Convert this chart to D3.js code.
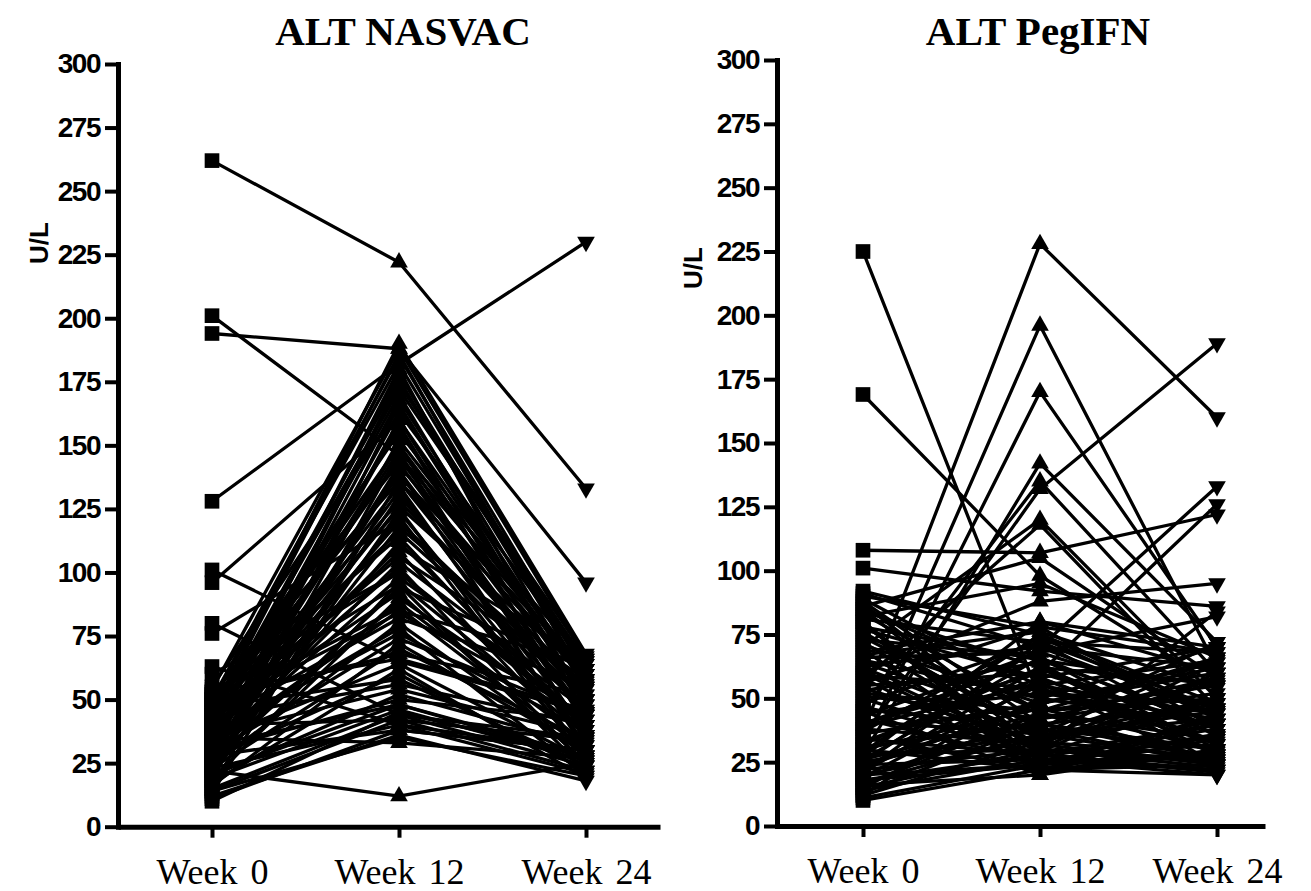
<!DOCTYPE html>
<html>
<head>
<meta charset="utf-8">
<script src="https://cdn.jsdelivr.net/npm/d3@7"></script>
<style>
  html, body { margin: 0; padding: 0; background: #fff; }
  svg { display: block; }
</style>
</head>
<body>
<div id="chart"></div>
<script>
(function () {
    'use strict';

    // categories and ticks
    var weeks = ["Week 0", "Week 12", "Week 24"];
    var yTicks = [0, 25, 50, 75, 100, 125, 150, 175, 200, 225, 250, 275, 300];

    // one row per patient: [week 0, week 12, week 24] in U/L
    var nasvacPatients = [
        [262, 222, 133], [201, 146, 60], [194, 188, 96], [128, 182, 230],
        [101, 65, 45], [96, 160, 55], [80, 44, 35], [76, 120, 50],
        [63, 40, 30], [60, 100, 40], [22, 12, 25], [14, 35, 20], [10, 45, 28],
        [45, 190, 68], [50, 185, 62], [38, 178, 58], [42, 172, 65], [30, 168, 55],
        [55, 165, 50], [25, 160, 45], [48, 155, 60], [35, 150, 52], [40, 145, 48],
        [28, 140, 42], [52, 136, 58], [33, 132, 38], [44, 128, 55], [20, 124, 35],
        [36, 120, 45], [47, 116, 50], [26, 112, 40], [39, 108, 30], [31, 104, 48],
        [53, 100, 42], [18, 96, 36], [42, 92, 25], [29, 88, 33], [46, 84, 44],
        [24, 80, 28], [37, 76, 38], [16, 72, 30], [50, 68, 52], [34, 64, 26],
        [27, 60, 22], [43, 56, 40], [20, 52, 32], [32, 48, 27], [15, 44, 24],
        [40, 42, 34], [23, 40, 21], [28, 38, 30], [12, 36, 18], [35, 33, 27],
        [19, 46, 26], [45, 150, 35], [30, 175, 62], [22, 130, 50], [38, 110, 66],
        [50, 95, 22], [26, 142, 57], [17, 62, 19], [41, 125, 28], [33, 85, 64],
        [54, 188, 66], [49, 182, 60], [43, 176, 54], [37, 170, 48], [31, 163, 64],
        [27, 158, 40], [21, 152, 58], [15, 147, 36], [52, 143, 44], [46, 138, 62],
        [39, 134, 32], [34, 126, 60], [29, 122, 26], [24, 118, 54], [51, 114, 36],
        [44, 106, 58], [38, 102, 24], [32, 98, 46], [25, 94, 62], [19, 90, 40],
        [48, 86, 30], [41, 82, 56], [35, 78, 20], [29, 74, 44], [23, 70, 34],
        [53, 66, 46], [47, 58, 24], [36, 54, 36], [30, 50, 42], [21, 48, 28],
        [14, 42, 22], [11, 38, 30], [44, 186, 56], [36, 180, 44], [28, 174, 67],
        [18, 166, 50], [40, 157, 40], [32, 148, 65], [24, 140, 30], [13, 136, 45]
    ];

    var pegifnPatients = [
        [225, 50, 40], [169, 98, 55], [49, 228, 160], [38, 196, 62], [32, 170, 70],
        [35, 132, 189], [108, 107, 122], [101, 92, 86], [60, 88, 95], [28, 142, 72],
        [45, 135, 60], [70, 120, 50], [25, 70, 133], [40, 60, 126], [85, 30, 84],
        [92, 75, 45], [88, 40, 30], [85, 55, 65], [80, 25, 35], [78, 65, 40],
        [75, 45, 55], [72, 30, 25], [68, 80, 60], [65, 50, 70], [62, 35, 45],
        [58, 22, 28], [55, 60, 38], [52, 45, 50], [50, 28, 22], [48, 72, 68],
        [46, 38, 30], [44, 52, 42], [42, 25, 35], [40, 65, 55], [38, 32, 24],
        [36, 48, 62], [34, 28, 40], [33, 58, 33], [31, 40, 27], [30, 22, 20],
        [29, 75, 48], [27, 35, 58], [26, 44, 26], [24, 26, 32], [23, 55, 44],
        [22, 30, 23], [21, 62, 36], [20, 24, 29], [19, 42, 52], [18, 28, 21],
        [17, 36, 25], [16, 20, 30], [15, 50, 40], [14, 26, 22], [12, 33, 27],
        [10, 22, 24], [90, 78, 38], [82, 95, 66], [86, 105, 58], [57, 118, 46],
        [66, 68, 82], [74, 38, 72],
        [91, 70, 62], [89, 52, 48], [87, 33, 57], [84, 62, 28], [83, 45, 66],
        [81, 72, 35], [79, 28, 50], [77, 58, 70], [76, 35, 42], [73, 66, 30],
        [71, 48, 64], [69, 24, 36], [67, 76, 54], [64, 40, 26], [63, 70, 44],
        [61, 29, 60], [59, 54, 32], [56, 78, 68], [54, 33, 48], [53, 64, 24],
        [51, 42, 58], [47, 27, 38], [43, 68, 46], [41, 36, 66], [39, 56, 28],
        [37, 74, 42], [35, 22, 34], [32, 62, 56], [30, 46, 30], [28, 30, 64],
        [26, 66, 38], [25, 38, 24], [23, 48, 60], [21, 72, 46], [20, 34, 50],
        [19, 56, 22], [18, 24, 42], [16, 44, 34], [15, 30, 26], [13, 40, 46],
        [12, 58, 32], [11, 24, 28], [27, 80, 70], [45, 20, 44], [60, 26, 20],
        [80, 22, 40]
    ];

    var w = 1311,
        h = 891;

    var panels = [
        { title: "ALT NASVAC", data: nasvacPatients,
          axisLeft: 118, axisRight: 660, first: 212, last: 586,
          yTop: 64, yBottom: 826.7, titleX: 403, ylabX: 48, ylabY: 243 },
        { title: "ALT PegIFN", data: pegifnPatients,
          axisLeft: 777, axisRight: 1265, first: 863, last: 1217,
          yTop: 60, yBottom: 826, titleX: 1038, ylabX: 702, ylabY: 268 }
    ];

    var svg = d3.select("#chart")
        .append("svg")
        .attr("width", w)
        .attr("height", h);

    var square = d3.symbol().type(d3.symbolSquare).size(215)(),
        triangle = d3.symbol().type(d3.symbolTriangle).size(135)();

    panels.forEach(function (p) {
        var step = (p.last - p.first) / 2;
        var x = d3.scaleLinear()
            .domain([(p.axisLeft - p.first) / step, (p.axisRight - p.first) / step])
            .range([p.axisLeft, p.axisRight]);
        var y = d3.scaleLinear()
            .domain([0, 300])
            .range([p.yBottom, p.yTop]);

        var g = svg.append("g");

        // patient lines
        var line = d3.line()
            .x(function (d, i) { return x(i); })
            .y(function (d) { return y(d); });

        g.append("g")
            .selectAll("path")
            .data(p.data)
            .enter().append("path")
            .attr("d", line)
            .attr("fill", "none")
            .attr("stroke", "#000")
            .attr("stroke-width", 3.3)
            .attr("stroke-linejoin", "round");

        // markers: square for week 0, up triangle week 12, down triangle week 24
        var marks = g.append("g");
        p.data.forEach(function (row) {
            row.forEach(function (v, i) {
                var shape = i === 0 ? square : triangle;
                var rot = i === 2 ? " rotate(180)" : "";
                marks.append("path")
                    .attr("d", shape)
                    .attr("transform", "translate(" + x(i) + "," + y(v) + ")" + rot)
                    .attr("fill", "#000");
            });
        });

        // y axis
        var yAxis = g.append("g")
            .attr("transform", "translate(" + p.axisLeft + ",0)")
            .call(d3.axisLeft(y).tickValues(yTicks).tickSize(13).tickSizeOuter(0).tickPadding(5));
        yAxis.select(".domain").attr("stroke-width", 5).attr("stroke-linecap", "square");
        yAxis.selectAll(".tick line").attr("stroke-width", 4);
        yAxis.selectAll(".tick text")
            .attr("font-family", "'Liberation Sans', Arial, sans-serif")
            .attr("font-weight", "bold")
            .attr("font-size", 28)
            .attr("letter-spacing", -1.5)
            .attr("fill", "#000");

        // x axis
        var xAxis = g.append("g")
            .attr("transform", "translate(0," + p.yBottom + ")")
            .call(d3.axisBottom(x).tickValues([0, 1, 2])
                .tickFormat(function (i) { return weeks[i]; })
                .tickSize(11).tickSizeOuter(0));
        xAxis.select(".domain").attr("stroke-width", 5);
        xAxis.selectAll(".tick line").attr("stroke-width", 4);
        xAxis.selectAll(".tick text")
            .attr("dy", null)
            .attr("y", 57)
            .attr("font-family", "'Liberation Serif', 'Times New Roman', serif")
            .attr("font-size", 36)
            .attr("word-spacing", 4)
            .attr("fill", "#000");

        // title
        svg.append("text")
            .attr("x", p.titleX)
            .attr("y", 45)
            .attr("text-anchor", "middle")
            .attr("font-family", "'Liberation Serif', 'Times New Roman', serif")
            .attr("font-weight", "bold")
            .attr("font-size", 41)
            .text(p.title);

        // y label
        svg.append("text")
            .attr("transform", "translate(" + p.ylabX + "," + p.ylabY + ") rotate(-90)")
            .attr("text-anchor", "middle")
            .attr("font-family", "'Liberation Sans', Arial, sans-serif")
            .attr("font-weight", "bold")
            .attr("font-size", 26)
            .text("U/L");
    });
})();
</script>
</body>
</html>
